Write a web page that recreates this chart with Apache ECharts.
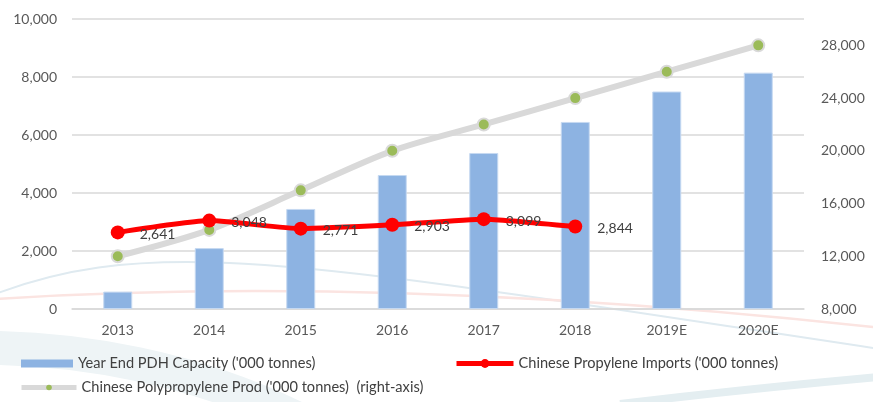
<!DOCTYPE html>
<html>
<head>
<meta charset="utf-8">
<script src="https://cdn.jsdelivr.net/npm/echarts@6/dist/echarts.min.js"></script>
<style>
  html, body { margin: 0; padding: 0; background: #ffffff; }
  #chart { width: 873px; height: 402px; }
</style>
</head>
<body>
<div id="chart"></div>
<script>
// Years on the category axis
const years = ['2013', '2014', '2015', '2016', '2017', '2018', '2019E', '2020E'];

// Year-end PDH capacity ('000 tonnes), left axis
const pdhCapacity = [600, 2100, 3450, 4620, 5380, 6450, 7500, 8150];

// Chinese propylene imports ('000 tonnes), left axis
const propyleneImports = [2641, 3048, 2771, 2903, 3099, 2844, null, null];

// Chinese polypropylene production ('000 tonnes), right axis
const ppProduction = [12000, 14000, 17000, 20000, 22000, 24000, 26000, 28000];

// Axis ranges
const leftAxisMin = 0, leftAxisMax = 10000, leftAxisStep = 2000;
const rightAxisMin = 8000, rightAxisMax = 30000, rightAxisStep = 4000;

const seriesNames = {
  pdh: "Year End PDH Capacity ('000 tonnes)",
  imports: "Chinese Propylene Imports ('000 tonnes)",
  pp: "Chinese Polypropylene Prod ('000 tonnes)  (right-axis)"
};

const FONT = 'Lato, "Open Sans", sans-serif';
const axisText = { color: '#595959', fontSize: 14, fontFamily: FONT };
const gridGray = '#d9d9d9';

const chart = echarts.init(document.getElementById('chart'), null, { renderer: 'canvas' });

const fmt = v => Number(v).toLocaleString('en-US');

const legendText = { color: '#404040', fontSize: 14.6, fontFamily: FONT };

// thin decorative curve behind the plot
function swoosh(shape, stroke, width) {
  return {
    type: 'bezierCurve', z: -10, silent: true,
    shape: shape,
    style: { stroke: stroke, lineWidth: width, fill: null }
  };
}

chart.setOption({
  animation: false,
  backgroundColor: '#ffffff',
  graphic: [
    swoosh({ x1: -20, y1: 300, cpx1: 150, cpy1: 230, cpx2: 300, cpy2: 262, x2: 900, y2: 352 }, '#dfeaf0', 2),
    swoosh({ x1: -20, y1: 300, cpx1: 200, cpy1: 285, cpx2: 500, cpy2: 285, x2: 900, y2: 330 }, '#fbe4e1', 2.5),
    swoosh({ x1: -40, y1: 348, cpx1: 80, cpy1: 345, cpx2: 200, cpy2: 370, x2: 300, y2: 420 }, '#eef4f6', 34),
    swoosh({ x1: 620, y1: 404, cpx1: 720, cpy1: 392, cpx2: 800, cpy2: 384, x2: 890, y2: 376 }, '#e4eef1', 8)
  ],
  grid: { left: 72, right: 69, top: 19, bottom: 93, containLabel: false },
  legend: [
    {
      data: [{ name: seriesNames.pdh, itemStyle: { borderWidth: 0 } }],
      left: 21, top: 356, padding: 0,
      itemWidth: 52, itemHeight: 8, icon: 'rect',
      textStyle: legendText, selectedMode: false
    },
    {
      data: [{ name: seriesNames.imports, lineStyle: { width: 5 } }],
      left: 454, top: 356, padding: 0,
      itemWidth: 57, itemHeight: 11,
      textStyle: legendText, selectedMode: false
    },
    {
      data: [{ name: seriesNames.pp, lineStyle: { width: 5 }, itemStyle: { borderWidth: 0 } }],
      left: 19, top: 380, padding: 0,
      itemWidth: 55, itemHeight: 7,
      textStyle: legendText, selectedMode: false
    }
  ],
  xAxis: {
    type: 'category',
    data: years,
    axisLine: { lineStyle: { color: gridGray, width: 1.5 } },
    axisTick: { show: false },
    axisLabel: Object.assign({ margin: 14 }, axisText)
  },
  yAxis: [
    {
      type: 'value',
      min: leftAxisMin, max: leftAxisMax, interval: leftAxisStep,
      axisLine: { show: false },
      axisTick: { show: false },
      axisLabel: Object.assign({ margin: 15, formatter: fmt }, axisText),
      splitLine: { lineStyle: { color: gridGray, width: 1.5 } }
    },
    {
      type: 'value',
      min: rightAxisMin, max: rightAxisMax, interval: rightAxisStep,
      axisLine: { show: false },
      axisTick: { show: false },
      axisLabel: Object.assign({ margin: 17, formatter: fmt, showMaxLabel: false }, axisText),
      splitLine: { show: false }
    }
  ],
  series: [
    {
      name: seriesNames.pdh,
      type: 'bar',
      data: pdhCapacity,
      barWidth: 29,
      itemStyle: { color: '#8db3e2', borderColor: '#c6d9f1', borderWidth: 1 },
      z: 2
    },
    {
      name: seriesNames.pp,
      type: 'line',
      yAxisIndex: 1,
      data: ppProduction,
      smooth: 0.3,
      symbol: 'circle',
      symbolSize: 12,
      lineStyle: { color: '#d9d9d9', width: 6 },
      itemStyle: { color: '#9bbb59', borderColor: '#d9d9d9', borderWidth: 2 },
      z: 3
    },
    {
      name: seriesNames.imports,
      type: 'line',
      data: propyleneImports,
      smooth: 0.15,
      symbol: 'circle',
      symbolSize: 14,
      lineStyle: { color: '#ff0000', width: 5 },
      itemStyle: { color: '#ff0000' },
      label: {
        show: true,
        position: 'right',
        distance: 15,
        offset: [0, 2],
        formatter: p => fmt(p.value),
        color: '#404040',
        fontSize: 14,
        fontFamily: FONT
      },
      z: 4
    }
  ]
});
</script>
</body>
</html>
